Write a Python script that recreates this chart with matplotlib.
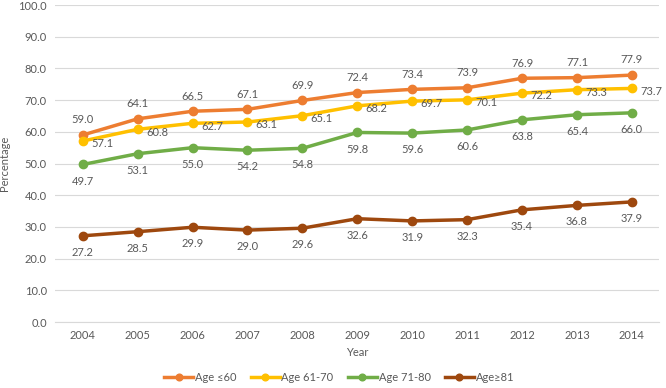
import matplotlib.pyplot as plt
from matplotlib.ticker import MultipleLocator, FormatStrFormatter

plt.rcParams['font.family'] = ['Lato', 'DejaVu Sans']

years = ["2004", "2005", "2006", "2007", "2008", "2009", "2010", "2011", "2012", "2013", "2014"]
age_60 = [59.0, 64.1, 66.5, 67.1, 69.9, 72.4, 73.4, 73.9, 76.9, 77.1, 77.9]
age_61_70 = [57.1, 60.8, 62.7, 63.1, 65.1, 68.2, 69.7, 70.1, 72.2, 73.3, 73.7]
age_71_80 = [49.7, 53.1, 55.0, 54.2, 54.8, 59.8, 59.6, 60.6, 63.8, 65.4, 66.0]
age_81 = [27.2, 28.5, 29.9, 29.0, 29.6, 32.6, 31.9, 32.3, 35.4, 36.8, 37.9]

series = [
    ("Age \u226460", age_60, "#ED7D31", "above"),
    ("Age 61-70", age_61_70, "#FFC000", "right"),
    ("Age 71-80", age_71_80, "#70AD47", "below"),
    ("Age\u226581", age_81, "#9E480E", "below"),
]

txt = "#595959"

fig = plt.figure(figsize=(6.66, 3.88), dpi=100)
ax = fig.add_axes([0.083, 0.170, 0.907, 0.817])

x = list(range(len(years)))
for name, vals, color, pos in series:
    ax.plot(x, vals, color=color, linewidth=2.5, marker="o", markersize=6, label=name, zorder=3)
    for xi, v in zip(x, vals):
        if pos == "above":
            ax.annotate(f"{v:.1f}", (xi, v), xytext=(0, 7), textcoords="offset points",
                        ha="center", va="bottom", fontsize=8, color=txt)
        elif pos == "right":
            ax.annotate(f"{v:.1f}", (xi, v), xytext=(6, -2), textcoords="offset points",
                        ha="left", va="center", fontsize=8, color=txt)
        else:
            ax.annotate(f"{v:.1f}", (xi, v), xytext=(0, -8), textcoords="offset points",
                        ha="center", va="top", fontsize=8, color=txt)

ax.set_xlim(-0.5, len(years) - 0.5)
ax.set_ylim(0, 100)
ax.set_xticks(x)
ax.set_xticklabels(years)
ax.yaxis.set_major_locator(MultipleLocator(10))
ax.yaxis.set_major_formatter(FormatStrFormatter("%.1f"))
ax.grid(axis="y", color="#D9D9D9", linewidth=0.8)
ax.set_axisbelow(True)
for s in ["top", "right", "left"]:
    ax.spines[s].set_visible(False)
ax.spines["bottom"].set_color("#D9D9D9")
ax.tick_params(axis="both", length=0, labelsize=8, colors=txt, pad=6)
ax.set_xlabel("Year", fontsize=8, color=txt, labelpad=4)
ax.set_ylabel("Percentage", fontsize=8, color=txt, labelpad=6)

ax.legend(loc="upper center", bbox_to_anchor=(0.47, -0.125), ncol=4, frameon=False,
          fontsize=8, labelcolor=txt, handlelength=2.6, handletextpad=0.15,
          columnspacing=1.3, markerscale=0.8)

plt.savefig("out.png", dpi=100)
